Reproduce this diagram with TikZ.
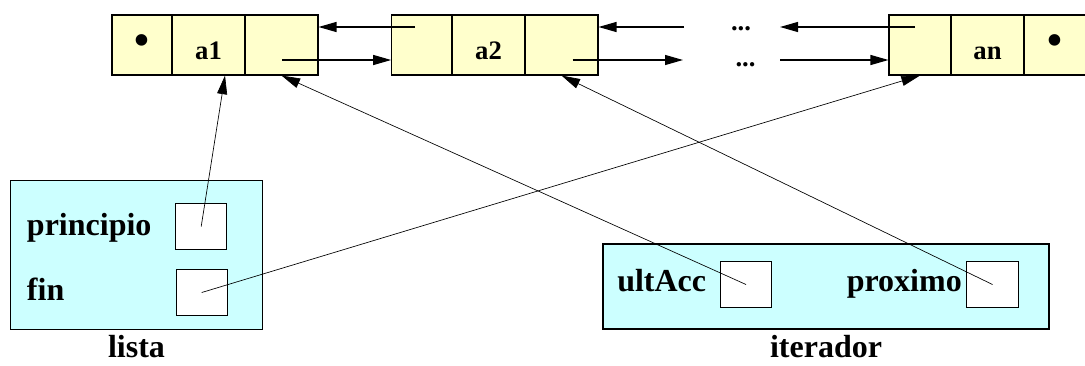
\documentclass[tikz,border=0pt]{standalone}
\usepackage{fontspec}
\setmainfont{Liberation Serif}
\usetikzlibrary{arrows.meta}
\definecolor{nodo}{RGB}{255,255,204}
\definecolor{objeto}{RGB}{204,255,255}
\newcommand{\nulo}{{\fontsize{32}{32}\selectfont\textbullet}}
\tikzset{
  celda/.style={draw, fill=nodo, line width=0.8pt, minimum height=45pt, minimum width=54.75pt, inner sep=0pt, font=\fontsize{20}{24}\selectfont\bfseries},
  dato/.style={celda, text height=21pt, text depth=0pt},
  campo/.style={draw, fill=white, line width=0.8pt, minimum width=38.5pt, minimum height=34pt, inner sep=0pt},
  caja/.style={draw, fill=objeto, line width=0.8pt, inner sep=0pt},
  etiq/.style={font=\fontsize{24}{28}\selectfont\bfseries, inner sep=0pt},
  enlace/.style={-{Triangle[length=13.5pt,width=7.5pt]}, line width=0.9pt},
  puntero/.style={-{Triangle[length=14pt,width=7.5pt]}, line width=0.5pt}
}
\begin{document}
\begin{tikzpicture}[x=0.75pt, y=-0.75pt]
    \useasboundingbox (0,0) rectangle (1085,365);
    % lista
    \node[caja, minimum width=188.5pt, minimum height=111.2pt] (lista) at (136.4,254.9) {};
    \node[etiq, anchor=base west] (tprin) at (26.7,235) {principio};
    \node[etiq, anchor=base west] (tfin) at (26.7,300) {fin};
    \node[campo] (prin) at (201.2,226.5) {};
    \node[campo] (fin) at (201.7,292.5) {};
    \node[etiq, anchor=base] (tlista) at (136.5,357) {lista};
    % iterador
    \node[caja, minimum width=334.5pt, minimum height=63.75pt] (iter) at (826,286.5) {};
    \node[etiq, anchor=base west] (tult) at (617,291.7) {ultAcc};
    \node[campo] (ult) at (746,284.5) {};
    \node[etiq, anchor=base east] (tprox) at (962,291.7) {proximo};
    \node[campo] (prox) at (992.5,284.5) {};
    \node[etiq, anchor=base] (titer) at (826,357) {iterador};
    % nodos de la lista
    \node[celda, minimum width=45pt] (c1a) at (142,45) {\nulo};
    \node[dato] (c1b) at (208.5,45) {a1};
    \node[celda] (c1c) at (281.5,45) {};
    \node[celda, minimum width=45pt] (c2a) at (421.7,45) {};
    \node[dato] (c2b) at (488.5,45) {a2};
    \node[celda] (c2c) at (561.5,45) {};
    \node[celda, minimum width=46.5pt] (cna) at (920,45) {};
    \node[dato] (cnb) at (987.5,45) {an};
    \node[celda, minimum width=46.5pt] (cnc) at (1055,45) {\nulo};
    \node[celda, draw=none, fill=none, anchor=base] (pts1) at (741,30) {...};
    \node[celda, draw=none, fill=none, anchor=base] (pts2) at (745.5,66) {...};
    \coordinate (r2) at (415,27);
    \coordinate (s1) at (282,60);
    \coordinate (r3) at (684,27);
    \coordinate (s2) at (572.7,60);
    \coordinate (s3) at (683,60);
    \coordinate (rn) at (915,27);
    \coordinate (rm) at (780,27);
    \coordinate (sm) at (780,60);
    \draw[enlace] (r2) -- (c1c.east |- r2);
    \draw[enlace] (s1) -- (c2a.west |- s1);
    \draw[enlace] (r3) -- (c2c.east |- r3);
    \draw[enlace] (s2) -- (s3);
    \draw[enlace] (rn) -- (rm);
    \draw[enlace] (sm) -- (cna.west |- sm);
    % punteros
    \draw[puntero] (prin.center) -- ([xshift=12.4pt]c1b.south);
    \draw[puntero] (fin.center) -- (cna.south);
    \draw[puntero] (ult.center) -- (c1c.south);
    \draw[puntero] (prox.center) -- (c2c.south);
\end{tikzpicture}
\end{document}
